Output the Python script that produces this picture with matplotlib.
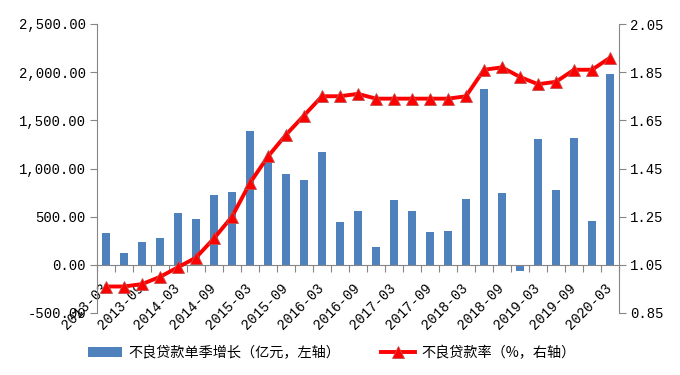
import matplotlib
matplotlib.use("Agg")
import matplotlib.pyplot as plt
from matplotlib.ticker import FuncFormatter, FixedLocator
import numpy as np

plt.rcParams['font.family'] = ['Noto Sans CJK SC', 'DejaVu Sans']

quarters = ["2013-03", "2013-06", "2013-09", "2013-12", "2014-03", "2014-06", "2014-09", "2014-12",
            "2015-03", "2015-06", "2015-09", "2015-12", "2016-03", "2016-06", "2016-09", "2016-12",
            "2017-03", "2017-06", "2017-09", "2017-12", "2018-03", "2018-06", "2018-09", "2018-12",
            "2019-03", "2019-06", "2019-09", "2019-12", "2020-03"]
npl_increase = [335, 128, 242, 283, 542, 477, 726, 757,
                1390, 1080, 947, 881, 1175, 443, 560, 187,
                674, 560, 342, 353, 684, 1825, 747, -69,
                1307, 778, 1320, 456, 1981]
npl_ratio = [0.96, 0.96, 0.97, 1.00, 1.04, 1.08, 1.16, 1.25,
             1.39, 1.50, 1.59, 1.67, 1.75, 1.75, 1.76, 1.74,
             1.74, 1.74, 1.74, 1.74, 1.75, 1.86, 1.87, 1.83,
             1.80, 1.81, 1.86, 1.86, 1.91]
bar_label = "不良贷款单季增长（亿元，左轴）"
line_label = "不良贷款率（%，右轴）"

num_font = ['Liberation Mono', 'DejaVu Sans Mono']

fig = plt.figure(figsize=(6.8, 3.75), dpi=100)
ax = fig.add_axes([97/680, 1-313/375, (619-97)/680, (313-24)/375])
ax2 = ax.twinx()

x = np.arange(len(quarters))
bars = ax.bar(x, npl_increase, width=0.4, color="#4F81BD", label=bar_label, zorder=2)
line, = ax2.plot(x, npl_ratio, color="#FF0000", lw=2.8, marker="^", markersize=9,
                 markerfacecolor="#FF0000", markeredgecolor="#C0504D", markeredgewidth=0.6,
                 label=line_label, zorder=3)

ax.set_xlim(-0.5, len(quarters) - 0.5)
ax.set_ylim(-500, 2500)
ax.set_yticks(np.arange(-500, 2501, 500))
ax.yaxis.set_major_formatter(FuncFormatter(lambda v, p: f"{v:,.2f}"))
ax2.set_ylim(0.85, 2.05)
ax2.set_yticks(np.round(np.arange(0.85, 2.051, 0.2), 2))
ax2.yaxis.set_major_formatter(FuncFormatter(lambda v, p: f"{v:.2f}"))

gray = "#868686"
for a in (ax, ax2):
    a.spines['top'].set_visible(False)
    for s in ('left', 'right', 'bottom'):
        a.spines[s].set_color(gray)
ax.spines['right'].set_visible(False)
ax2.spines['left'].set_visible(False)
ax2.spines['bottom'].set_visible(False)
ax.spines['bottom'].set_position(('data', 0))

ax.tick_params(axis='y', direction='out', length=5, color=gray, labelsize=10, pad=3)
ax2.tick_params(axis='y', direction='out', length=5, color=gray, labelsize=10, pad=3)

# x: major ticks at category boundaries (no labels), minor ticks at centers with labels
ax.xaxis.set_major_locator(FixedLocator(np.arange(-0.5, len(quarters), 1.0)))
ax.xaxis.set_major_formatter(FuncFormatter(lambda v, p: ""))
ax.tick_params(axis='x', which='major', direction='out', length=5, color=gray)
label_pos = x[::2]
ax.xaxis.set_minor_locator(FixedLocator(label_pos))
ax.set_xticklabels([quarters[i] for i in label_pos], minor=True)
ax.tick_params(axis='x', which='minor', length=0, pad=15, labelsize=10)
for t in ax.get_xticklabels(minor=True):
    t.set_rotation(45)
    t.set_rotation_mode('anchor')
    t.set_ha('right')
    t.set_va('center')
    t.set_family(num_font)
for t in ax.get_yticklabels() + ax2.get_yticklabels():
    t.set_family(num_font)

fig.legend([bars, line], [bar_label, line_label], loc='center left', ncol=2,
           bbox_to_anchor=(88/680, 1-353/375), frameon=False, fontsize=10.2,
           borderpad=0, borderaxespad=0, columnspacing=2.9, handlelength=2.4,
           handletextpad=0.45)

fig.savefig("out.png", dpi=100)
